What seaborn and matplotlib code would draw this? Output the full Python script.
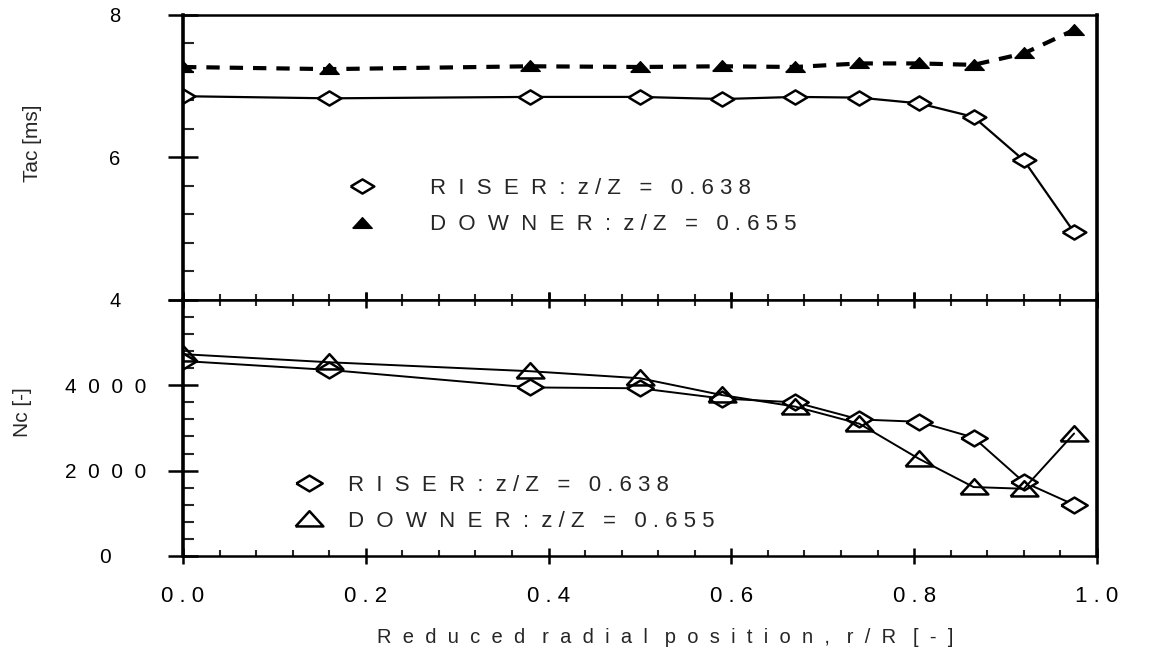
import matplotlib
matplotlib.use("Agg")
import matplotlib.pyplot as plt
from matplotlib.lines import Line2D
from matplotlib.ticker import AutoMinorLocator, FixedLocator
import seaborn as sns

# ---------------- data ----------------
r_pos = [0.0, 0.16, 0.38, 0.50, 0.59, 0.67, 0.74, 0.805, 0.865, 0.92, 0.975]
tac_riser = [6.86, 6.83, 6.85, 6.85, 6.82, 6.85, 6.84, 6.76, 6.57, 5.96, 4.95]
tac_downer = [7.27, 7.24, 7.28, 7.27, 7.28, 7.27, 7.32, 7.32, 7.30, 7.46, 7.79]
nc_riser = [4570, 4360, 3950, 3930, 3690, 3600, 3200, 3145, 2775, 1730, 1200]
nc_downer = [4730, 4540, 4330, 4165, 3770, 3500, 3100, 2280, 1615, 1575, 2870]

x_ticks = [0.0, 0.2, 0.4, 0.6, 0.8, 1.0]
x_tick_labels = ["0 . 0", "0 . 2", "0 . 4", "0 . 6", "0 . 8", "1 . 0"]
tac_ticks = [4, 6, 8]
tac_tick_labels = ["4", "6", "8"]
nc_ticks = [0, 2000, 4000, 6000]
nc_tick_labels = ["0", "2  0  0  0", "4  0  0  0", ""]
riser_label = "R  I  S  E  R  :  z / Z   =   0 . 6 3 8"
downer_label = "D  O  W  N  E  R  :  z / Z   =   0 . 6 5 5"
x_label = ("R  e  d  u  c  e  d   r  a  d  i  a  l   p  o  s  i  t  i  o  n  ,"
           "   r  /  R   [  -  ]")
tac_label = "Tac [ms]"
nc_label = "Nc [-]"

sns.set_style("white")
plt.rcParams["font.family"] = ["Liberation Sans", "DejaVu Sans"]
NARROW = ["Liberation Sans Narrow", "Liberation Sans", "DejaVu Sans"]

fig = plt.figure(figsize=(11.57, 6.51), dpi=100)
W = 0.7899
ax1 = fig.add_axes([0.1582, 0.5392, W, 0.4378])
ax2 = fig.add_axes([0.1582, 0.146, W, 0.3932], sharex=ax1)

diamond = [(-1, 0), (0, 0.6), (1, 0), (0, -0.6), (-1, 0)]
triangle = [(-1, -0.5), (1, -0.5), (0, 0.6), (-1, -0.5)]

# top panel
sns.lineplot(x=r_pos, y=tac_downer, ax=ax1, color="black", sort=False, errorbar=None,
             linewidth=3.0, linestyle=(0, (3.2, 2.4)), marker=triangle, markersize=14,
             markerfacecolor="black", markeredgecolor="black", markeredgewidth=1.0)
sns.lineplot(x=r_pos, y=tac_riser, ax=ax1, color="black", sort=False, errorbar=None,
             linewidth=1.6, marker=diamond, markersize=17,
             markerfacecolor="white", markeredgecolor="black", markeredgewidth=1.8)

# bottom panel
sns.lineplot(x=r_pos, y=nc_riser, ax=ax2, color="black", sort=False, errorbar=None,
             linewidth=1.4, marker=diamond, markersize=19,
             markerfacecolor="white", markeredgecolor="black", markeredgewidth=1.8)
sns.lineplot(x=r_pos, y=nc_downer, ax=ax2, color="black", sort=False, errorbar=None,
             linewidth=1.4, marker=triangle, markersize=20,
             markerfacecolor="none", markeredgecolor="black", markeredgewidth=1.8)

# axes limits & ticks
ax1.set_xlim(0, 1.0)
ax1.set_ylim(4, 8)
ax2.set_ylim(0, 6000)

for ax in (ax1, ax2):
    for side in ("left", "right"):
        ax.spines[side].set_linewidth(2.6)
        ax.spines[side].set_color("black")
    for side in ("top", "bottom"):
        ax.spines[side].set_linewidth(1.8)
        ax.spines[side].set_color("black")
    ax.xaxis.set_major_locator(FixedLocator(x_ticks))
    ax.xaxis.set_minor_locator(AutoMinorLocator(5))
    ax.yaxis.set_minor_locator(AutoMinorLocator(5))
    ax.tick_params(axis="y", which="major", direction="inout", length=22, width=1.8,
                   left=True, right=False, labelsize=14, colors="black")
    ax.tick_params(axis="y", which="minor", direction="in", length=8, width=1.5,
                   left=True, right=False)
    ax.tick_params(axis="x", which="major", direction="inout", length=11.5, width=1.8,
                   colors="black")
    ax.tick_params(axis="x", which="minor", direction="in", length=4.5, width=1.5)
    ax.set_xlabel("")
    ax.set_ylabel("")

ax1.tick_params(axis="x", which="both", top=False, bottom=True, labelbottom=False)
ax2.tick_params(axis="x", which="both", top=True, bottom=True, labeltop=False,
                labelbottom=True, labelsize=16, pad=16)

ax1.yaxis.set_major_locator(FixedLocator(tac_ticks))
ax1.set_yticklabels(tac_tick_labels)
ax2.yaxis.set_major_locator(FixedLocator(nc_ticks))
ax2.set_yticklabels(nc_tick_labels)
ax2.set_xticklabels(x_tick_labels)

for lab in ax1.get_yticklabels():
    lab.set_horizontalalignment("center")
    lab.set_fontsize(14.5)
ax1.tick_params(axis="y", which="major", pad=38)
for lab in ax2.get_yticklabels():
    lab.set_horizontalalignment("center")
    lab.set_fontsize(15)
ax2.tick_params(axis="y", which="major", pad=45)

# axis labels
ax1.set_ylabel(tac_label, fontsize=15, family=NARROW)
ax1.yaxis.set_label_coords(-0.154, 0.55)
ax2.set_ylabel(nc_label, fontsize=15, family=NARROW)
ax2.yaxis.set_label_coords(-0.165, 0.5625)
ax2.set_xlabel(x_label, fontsize=14.5)
ax2.xaxis.set_label_coords(0.528, -0.28)

# legends
h_riser_top = Line2D([], [], linestyle="none", marker=diamond, markersize=17,
                     markerfacecolor="white", markeredgecolor="black", markeredgewidth=1.8)
h_downer_top = Line2D([], [], linestyle="none", marker=triangle, markersize=14,
                      markerfacecolor="black", markeredgecolor="black")
ax1.legend([h_riser_top, h_downer_top], [riser_label, downer_label],
           loc="upper left", bbox_to_anchor=(0.172, 0.428), frameon=False,
           fontsize=16, handlelength=2.0, handletextpad=2.03, labelspacing=0.69,
           borderpad=0, borderaxespad=0)

h_riser_bot = Line2D([], [], linestyle="none", marker=diamond, markersize=19,
                     markerfacecolor="white", markeredgecolor="black", markeredgewidth=1.8)
h_downer_bot = Line2D([], [], linestyle="none", marker=triangle, markersize=20,
                      markerfacecolor="none", markeredgecolor="black", markeredgewidth=1.8)
ax2.legend([h_riser_bot, h_downer_bot], [riser_label, downer_label],
           loc="upper left", bbox_to_anchor=(0.120, 0.318), frameon=False,
           fontsize=16, handlelength=1.5, handletextpad=1.0, labelspacing=0.69,
           borderpad=0, borderaxespad=0)

fig.savefig("out.png", dpi=100, facecolor="white")
